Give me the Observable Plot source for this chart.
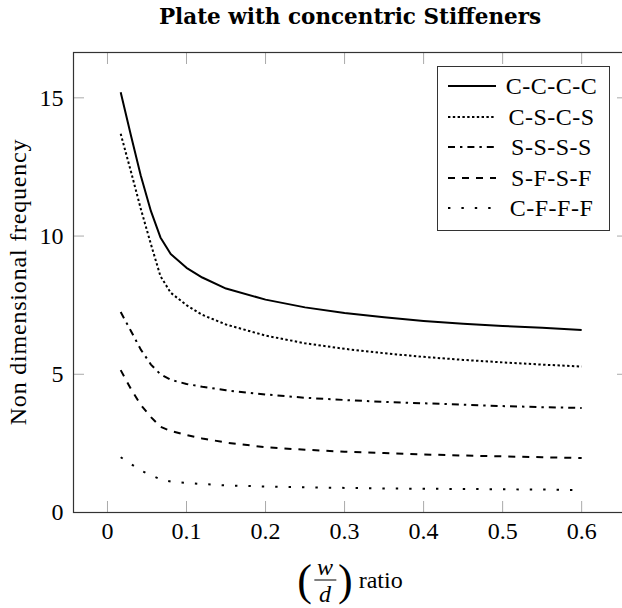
<!DOCTYPE html>
<html>
<head>
<meta charset="utf-8">
<script src="https://cdn.jsdelivr.net/npm/d3@7"></script>
<script src="https://cdn.jsdelivr.net/npm/@observablehq/plot@0.6"></script>
<style>
  html, body { margin: 0; background: #fff; overflow: hidden; }
  #wrap { position: relative; width: 622px; height: 608px; overflow: hidden; font-family: "Liberation Serif", serif; color: #000; }
  #title { position: absolute; left: 73px; width: 554px; top: 4px; text-align: center; font-weight: bold; font-size: 21.5px; font-family: "DejaVu Serif", serif; }
  #chart { position: absolute; left: 0; top: 0; }
  #ylabel { position: absolute; left: 18px; top: 282px; transform: translate(-50%, -50%) rotate(-90deg); white-space: nowrap; font-size: 24px; letter-spacing: 0.8px; }
  #xlabel { position: absolute; left: 350px; top: 580px; transform: translate(-50%, -50%); display: flex; align-items: center; font-size: 24px; white-space: nowrap; }
  .paren { font-size: 44px; line-height: 1; display: inline-block; font-weight: 300; }
  .frac { display: inline-flex; flex-direction: column; align-items: center; font-style: italic; line-height: 1.0; margin: 0 2px; }
  .frac .num { border-bottom: 1.5px solid #000; padding: 0 3px 1px; }
  .frac .den { padding-top: 1px; }
  #legend { position: absolute; left: 437px; top: 66px; width: 173px; height: 165px; box-sizing: border-box; border: 1px solid #333; background: #fff; }
  .lrow { position: absolute; left: 0; width: 100%; height: 30px; }
  .lrow svg { position: absolute; left: 9px; top: 0; }
  .lrow span { position: absolute; left: 60px; right: 4px; text-align: center; top: 1px; font-size: 24px; line-height: 28px; letter-spacing: 0.5px; }
</style>
</head>
<body>
<div id="wrap">
  <div id="chart"></div>
  <div id="title">Plate with concentric Stiffeners</div>
  <div id="ylabel">Non dimensional frequency</div>
  <div id="xlabel"><span class="paren">(</span><span class="frac"><span class="num">w</span><span class="den">d</span></span><span class="paren">)</span><span>&nbsp;ratio</span></div>
  <div id="legend"></div>
</div>
<script>
// ---- data ----
const ratios = [0.0167, 0.03, 0.042, 0.055, 0.067, 0.08, 0.1, 0.12, 0.15, 0.2, 0.25, 0.3, 0.35, 0.4, 0.45, 0.5, 0.55, 0.6];
const cccc = [15.2, 13.6, 12.2, 10.9, 9.95, 9.35, 8.85, 8.5, 8.1, 7.7, 7.42, 7.22, 7.06, 6.93, 6.83, 6.75, 6.68, 6.6];
const cscs = [13.7, 12.3, 11.0, 9.7, 8.55, 7.95, 7.5, 7.15, 6.8, 6.4, 6.12, 5.92, 5.76, 5.63, 5.52, 5.43, 5.35, 5.28];
const ssss = [7.25, 6.55, 5.9, 5.35, 5.0, 4.8, 4.65, 4.55, 4.42, 4.27, 4.15, 4.07, 4.0, 3.95, 3.9, 3.85, 3.81, 3.78];
const sfsf = [5.15, 4.45, 3.9, 3.45, 3.1, 2.95, 2.8, 2.68, 2.53, 2.36, 2.27, 2.2, 2.15, 2.1, 2.06, 2.03, 2.0, 1.97];
const cfff = [2.0, 1.75, 1.52, 1.35, 1.2, 1.12, 1.07, 1.03, 0.98, 0.94, 0.91, 0.89, 0.87, 0.86, 0.85, 0.84, 0.83, 0.81];
const seriesNames = ["C-C-C-C", "C-S-C-S", "S-S-S-S", "S-F-S-F", "C-F-F-F"];
const xTicks = [0, 0.1, 0.2, 0.3, 0.4, 0.5, 0.6];
const yTicks = [0, 5, 10, 15];

// styles
const dashes = [null, "2.4,2.4", "7,5,2.4,5", "7,7", "2.4,11"];
const values = [cccc, cscs, ssss, sfsf, cfff];

const rows = seriesNames.flatMap((name, i) => ratios.map((x, j) => ({series: name, x, y: values[i][j]})));

const tickStroke = "#aaa";
const plot = Plot.plot({
  width: 622,
  height: 608,
  marginTop: 52,
  marginLeft: 73,
  marginRight: -5,
  marginBottom: 96,
  x: {domain: [-0.043, 0.658]},
  y: {domain: [0, 16.64]},
  style: {fontFamily: "Liberation Serif", fontSize: "24px", color: "#000", background: "transparent", overflow: "hidden"},
  marks: [
    ...seriesNames.map((name, i) => Plot.line(rows.filter(r => r.series === name), {
      x: "x", y: "y", stroke: "#000", strokeWidth: 2,
      strokeDasharray: dashes[i], strokeLinecap: "butt", strokeLinejoin: "round"
    })),
    Plot.axisX({anchor: "bottom", ticks: xTicks, tickSize: -11, tickPadding: 20, stroke: tickStroke, fill: "#000", label: null, tickFormat: d => String(d)}),
    Plot.axisX({anchor: "top", ticks: xTicks, tickSize: -11, stroke: tickStroke, label: null, tickFormat: () => ""}),
    Plot.axisY({anchor: "left", ticks: yTicks, tickSize: -11, tickPadding: 21, stroke: tickStroke, fill: "#000", label: null, tickFormat: d => String(d)}),
    Plot.axisY({anchor: "right", ticks: yTicks, tickSize: -11, stroke: tickStroke, label: null, tickFormat: () => ""}),
    Plot.frame({stroke: "#333", strokeWidth: 1.2})
  ]
});
document.getElementById("chart").appendChild(plot);

// legend
const legend = document.getElementById("legend");
seriesNames.forEach((name, i) => {
  const row = document.createElement("div");
  row.className = "lrow";
  row.style.top = (4 + i * 30.5) + "px";
  row.innerHTML = `<svg width="50" height="30"><line x1="1" x2="49" y1="15" y2="15" stroke="#000" stroke-width="2" ${dashes[i] ? `stroke-dasharray="${dashes[i]}"` : ""}/></svg><span>${name}</span>`;
  legend.appendChild(row);
});
</script>
</body>
</html>
